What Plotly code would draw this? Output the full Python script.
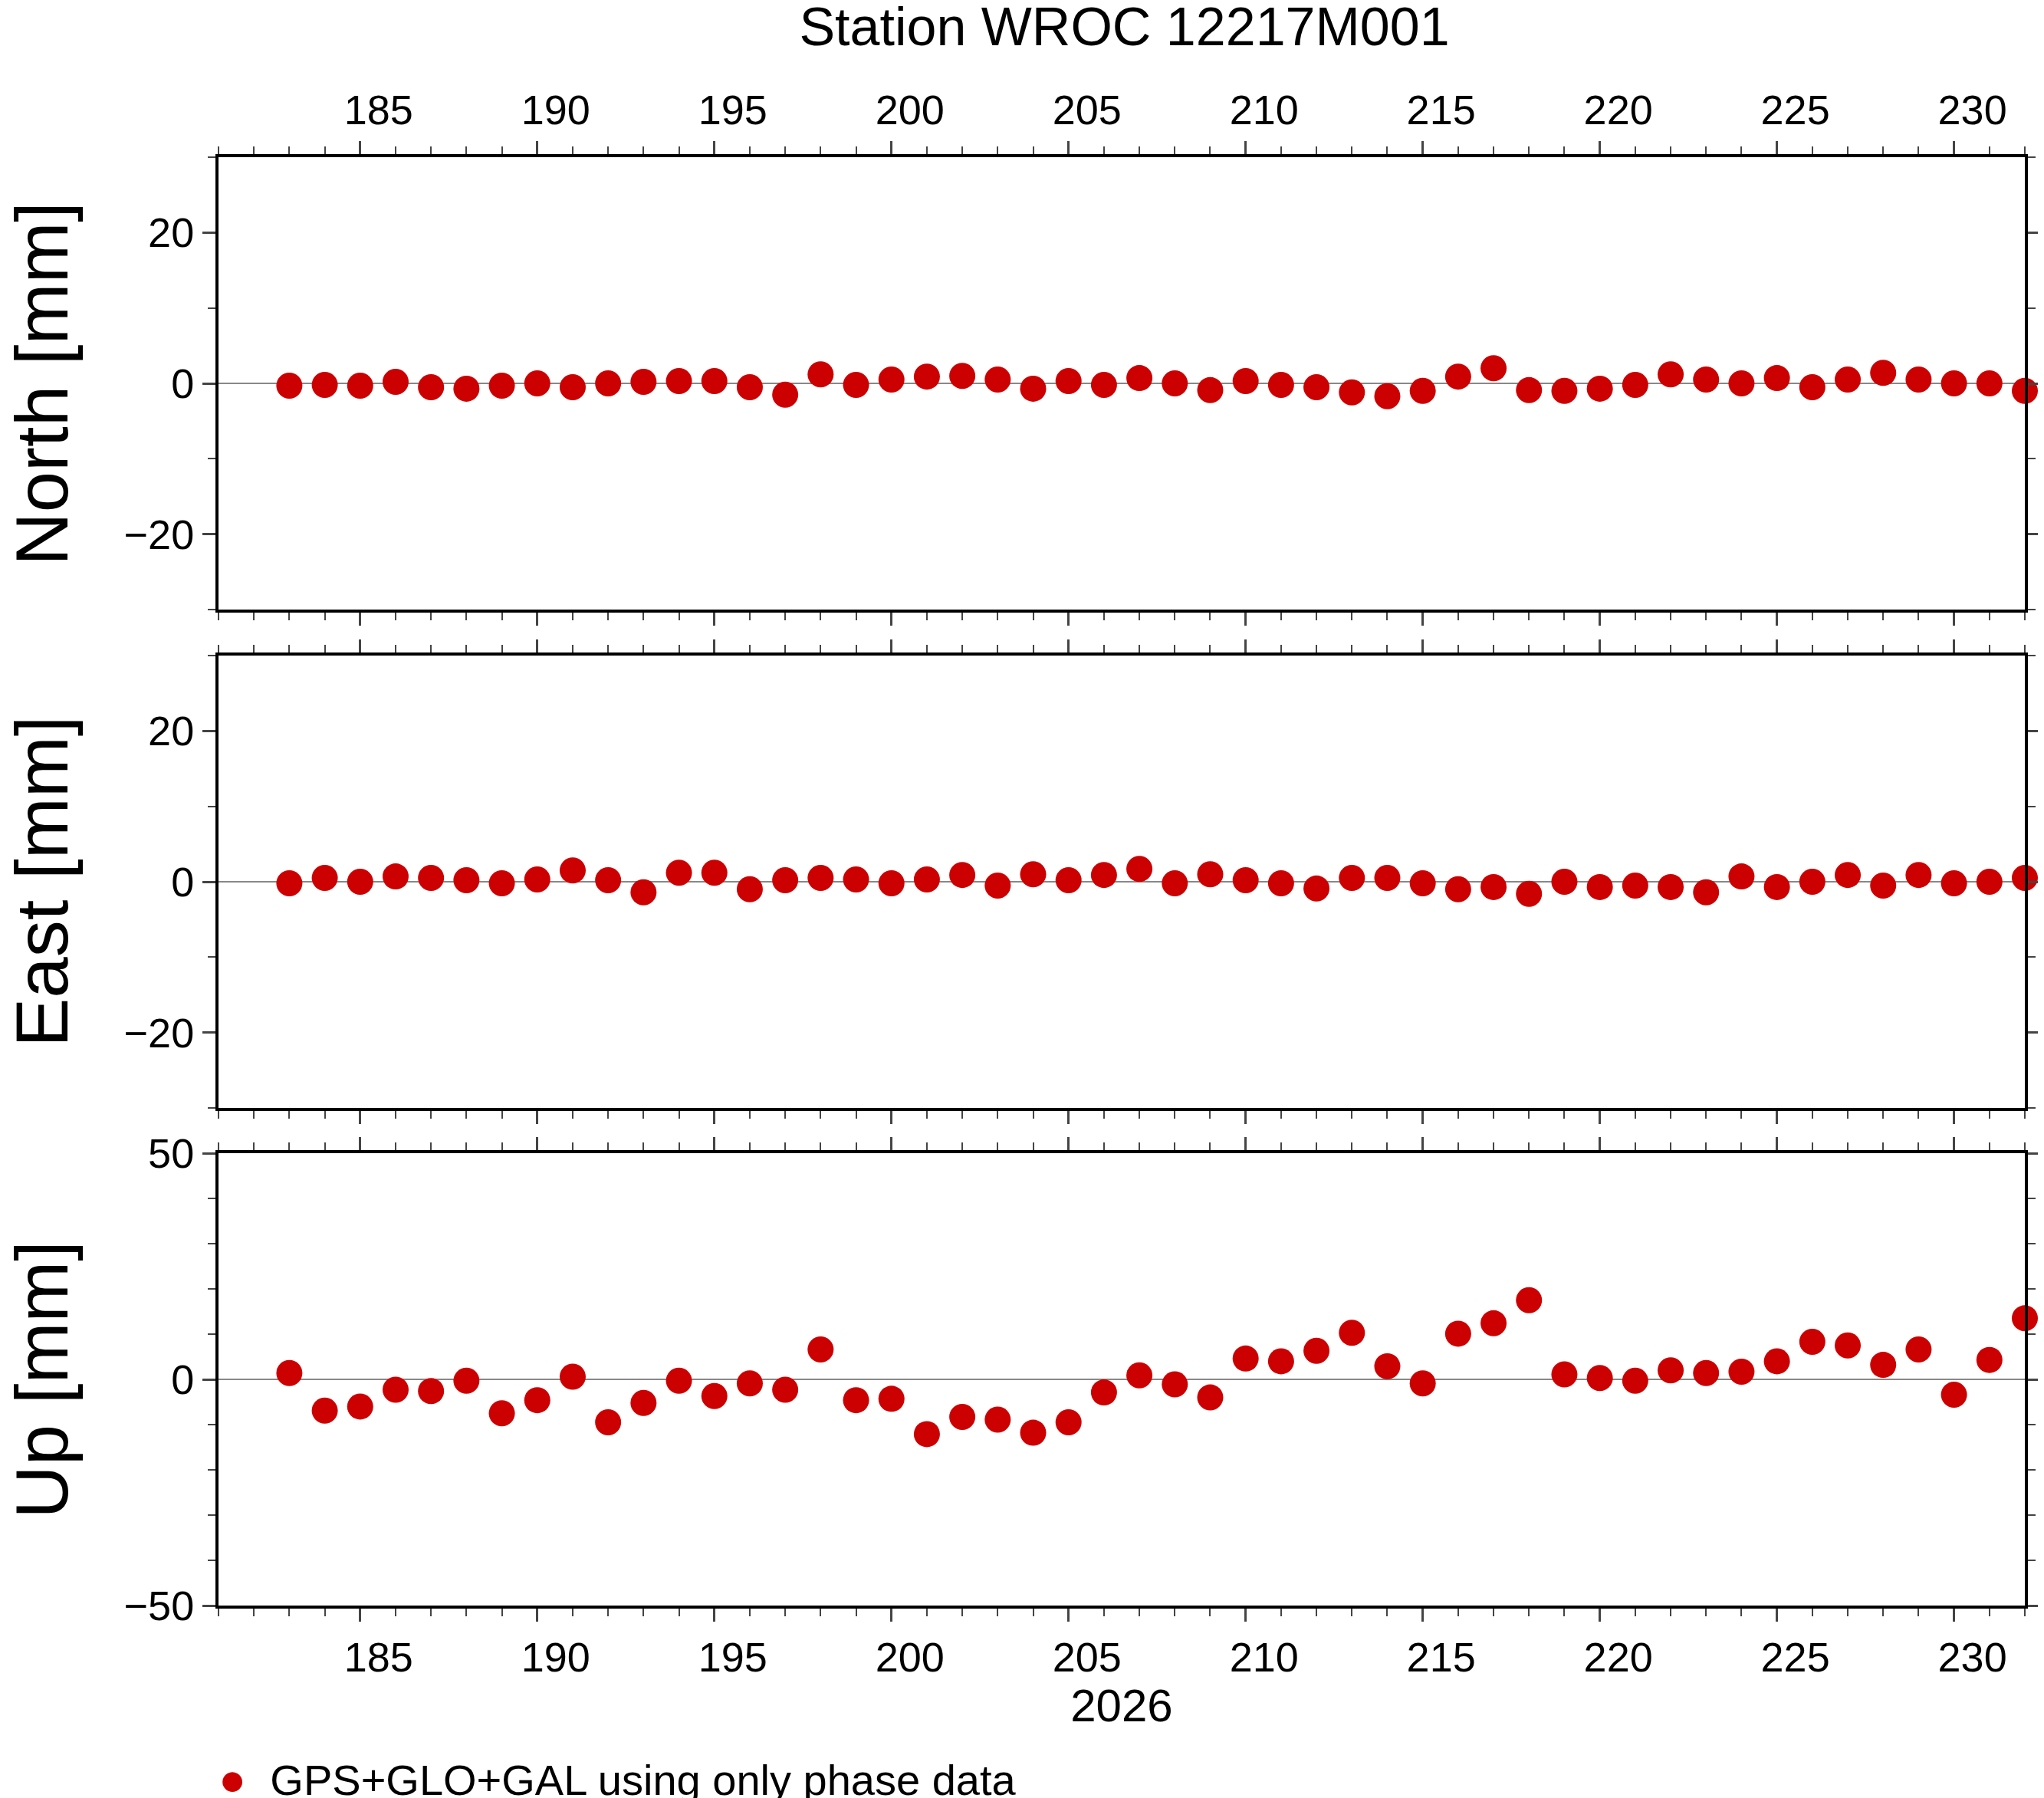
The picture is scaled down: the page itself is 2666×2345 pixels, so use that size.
import plotly.graph_objects as go
from plotly.subplots import make_subplots

days = list(range(183, 233))
north = [-0.3, -0.2, -0.3, 0.2, -0.5, -0.7, -0.3, 0.0, -0.5, 0.0, 0.2, 0.3, 0.3, -0.5, -1.5, 1.2, -0.2, 0.5,
         0.9, 1.0, 0.5, -0.7, 0.3, -0.2, 0.7, 0.0, -0.9, 0.3, -0.2, -0.5, -1.2, -1.7, -1.0, 0.9, 2.0, -0.9,
         -1.0, -0.7, -0.2, 1.2, 0.5, 0.0, 0.7, -0.5, 0.5, 1.4, 0.5, 0.0, 0.0, -1.0]
east = [-0.2, 0.5, 0.0, 0.7, 0.5, 0.2, -0.2, 0.3, 1.5, 0.2, -1.4, 1.2, 1.2, -1.0, 0.2, 0.5, 0.3, -0.2,
        0.3, 0.9, -0.5, 1.0, 0.2, 0.9, 1.7, -0.2, 1.0, 0.2, -0.2, -0.9, 0.5, 0.5, -0.2, -1.0, -0.7, -1.6,
        0.0, -0.7, -0.5, -0.7, -1.4, 0.7, -0.7, 0.0, 0.9, -0.5, 0.9, -0.2, 0.0, 0.5]
up = [1.4, -6.9, -6.0, -2.3, -2.6, -0.3, -7.5, -4.6, 0.6, -9.5, -5.2, -0.3, -3.7, -0.9, -2.3, 6.6, -4.6, -4.3,
      -12.1, -8.3, -8.9, -11.8, -9.5, -2.9, 0.9, -1.1, -4.0, 4.6, 4.0, 6.3, 10.3, 2.9, -0.9, 10.1, 12.4, 17.5,
      1.1, 0.3, -0.3, 2.0, 1.4, 1.7, 4.0, 8.3, 7.5, 3.2, 6.6, -3.4, 4.3, 13.5]
x_ticks = [185, 190, 195, 200, 205, 210, 215, 220, 225, 230]

W, H = 2666, 2345
L, R, T, B = 277, 26, 197, 259
ph = H - T - B
pw = W - L - R
def dom(top, bot):
    return [(H - B - bot) / ph, (H - B - top) / ph]

fig = make_subplots(rows=3, cols=1)
red = "#cc0000"
series = [("North [mm]", north, 30, 20), ("East [mm]", east, 30, 20), ("Up [mm]", up, 50, 50)]
doms = [dom(197, 787), dom(847, 1437), dom(1496, 2086)]
font = dict(family="Liberation Sans, Arial", color="black")

for i, (name, vals, lim, dt) in enumerate(series):
    r = i + 1
    fig.add_trace(go.Scatter(x=days, y=vals, mode="markers", cliponaxis=False,
                             marker=dict(color=red, size=34), showlegend=False),
                  row=r, col=1)
    fig.update_yaxes(range=[-lim, lim], dtick=dt, tick0=0, domain=doms[i],
                     showline=True, linecolor="black", linewidth=4, mirror="allticks",
                     ticks="outside", ticklen=17, tickwidth=3, showgrid=False,
                     zeroline=True, zerolinecolor="#888888", zerolinewidth=1.5,
                     minor=dict(ticks="outside", dtick=10, ticklen=10, tickwidth=2),
                     tickfont=dict(size=54, **font), row=r, col=1)
    fig.update_xaxes(range=[181, 232], tickvals=x_ticks, showgrid=False, zeroline=False,
                     showline=True, linecolor="black", linewidth=4, mirror="allticks",
                     ticks="outside", ticklen=17, tickwidth=3,
                     minor=dict(ticks="outside", dtick=1, ticklen=10, tickwidth=2),
                     showticklabels=(i != 1), side="top" if i == 0 else "bottom",
                     ticklabelshift=24, tickfont=dict(size=54, **font), row=r, col=1)
    fig.add_annotation(text=name, xref="paper", yref="paper", x=-(277 - 45) / pw,
                       y=sum(doms[i]) / 2, textangle=-90, showarrow=False,
                       xanchor="center", yanchor="middle", font=dict(size=96, **font))

fig.update_xaxes(title=dict(text="2026", font=dict(size=60, **font), standoff=8), row=3, col=1)

# legend drawn as text
fig.add_annotation(text="<span style='color:#cc0000;font-size:60px'>●</span>  GPS+GLO+GAL using only phase data",
                   xref="paper", yref="paper", x=(275 - L) / pw, y=-(2312 - 2086) / ph,
                   xanchor="left", yanchor="middle", showarrow=False, font=dict(size=56, **font))

fig.update_layout(
    width=W, height=H, margin=dict(l=L, r=R, t=T, b=B),
    plot_bgcolor="white", paper_bgcolor="white",
    title=dict(text="Station WROC 12217M001", x=(277 + 2640) / 2 / W, y=0.999,
               xanchor="center", yanchor="top", font=dict(size=70, **font)),
)
fig.write_html("out.html")
